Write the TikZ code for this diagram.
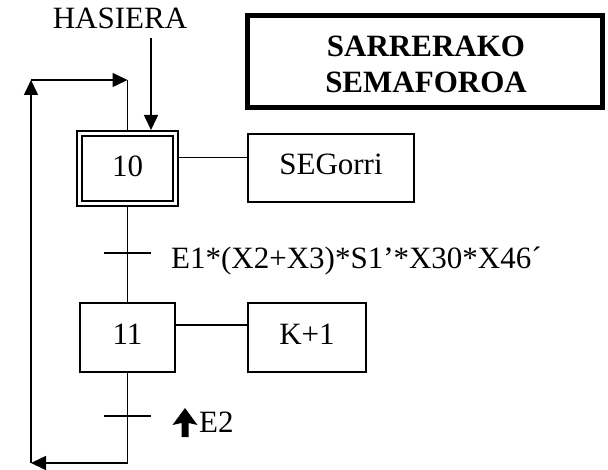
\documentclass[tikz,border=0pt]{standalone}
\usepackage{fontspec}
\setmainfont{Liberation Serif}
\usetikzlibrary{arrows.meta}
\begin{document}
\begin{tikzpicture}[x=1pt,y=-1pt,
  every node/.style={font=\fontsize{31}{36}\selectfont},
  ln/.style={line width=1.6pt},
  arr/.style={ln,-{Triangle[width=14pt,length=15pt]}},
  box/.style={draw,line width=1.8pt,inner sep=0pt,text height=21pt,text depth=7pt},
  initstep/.style={draw,double,line width=1.6pt,double distance=3.4pt,outer sep=3.3pt,inner sep=0pt,
    minimum width=96.4pt,minimum height=70.4pt,text height=21pt,text depth=4pt},
  titlebox/.style={draw,line width=5pt,minimum width=355pt,minimum height=92pt},
  tick/.style={line width=1.6pt}]
\useasboundingbox (0,0) rectangle (608,470);

% title
\node[titlebox] (tb) at (425,61.5) {};
\node[font=\fontsize{31}{36}\selectfont\bfseries,align=center,inner sep=0pt] (title) at (426,64.5) {SARRERAKO\\SEMAFOROA};

% initial label
\node[anchor=base,inner sep=0pt] (hasiera) at (120,29) {HASIERA};

% steps
\node[initstep] (s10) at (127.5,168.5) {10};
\node[box,minimum width=95pt,minimum height=69pt] (s11) at (127.5,337.5) {11};

% actions
\node[box,minimum width=166pt,minimum height=68pt] (seg) at (331,168) {SEGorri};
\node[box,minimum width=118pt,minimum height=69pt] (kp) at (307,337.5) {K+1};

% coordinates
\coordinate (hstart) at (151,38);
\coordinate (c1) at (0,157.5);
\coordinate (c2) at (0,325);
\coordinate (lt) at (31,80);
\coordinate (lb) at (31,463);
\coordinate (topc) at (127.5,80);
\coordinate (t1) at (127.5,253);
\coordinate (t2) at (127.5,416);

% HASIERA arrow
\draw[arr] (hstart) -- (hstart |- s10.north);

% action links
\draw[ln] (s10.east |- c1) -- (seg.west |- c1);
\draw[ln] (s11.east |- c2) -- (kp.west |- c2);

% main flow
\draw[ln] (s10.south) -- (s11.north);
\draw[arr] (s11.south) |- (lb);
\draw[arr] (lb) -- (lt);
\draw[arr] (lt) -- (topc);
\draw[ln] (topc) -- (s10.north);

% transitions
\draw[tick] ([xshift=-23.5pt]t1) -- ([xshift=23.5pt]t1);
\draw[tick] ([xshift=-23.5pt]t2) -- ([xshift=23.5pt]t2);
\node[anchor=base west,inner sep=0pt] (tr1) at (171,269) {E1*(X2+X3)*S1’*X30*X46´};
\fill (172.5,425) -- (185,408) -- (197.5,425) -- (188.5,423) -- (188.5,437) -- (181.5,437) -- (181.5,423) -- cycle;
\node[anchor=base west,inner sep=0pt] (tr2) at (199,432) {E2};
\end{tikzpicture}
\end{document}
